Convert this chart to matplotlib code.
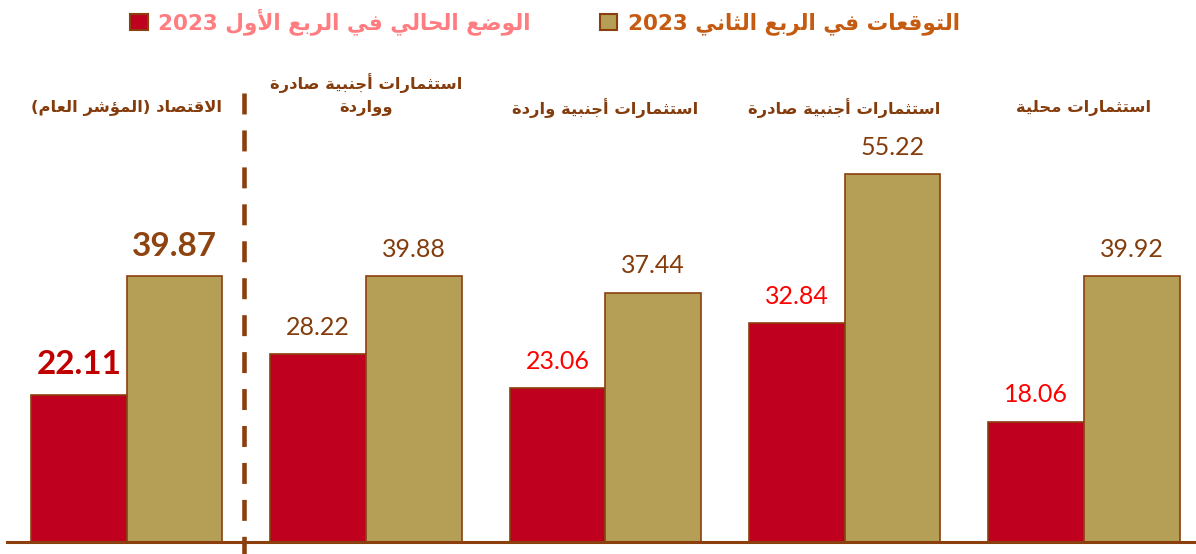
import re
import numpy as np
import matplotlib
matplotlib.use("Agg")
import matplotlib.pyplot as plt

# ---------------- data ----------------
categories = [
    "الاقتصاد (المؤشر العام)",
    "استثمارات أجنبية صادرة\nوواردة",
    "استثمارات أجنبية واردة",
    "استثمارات أجنبية صادرة",
    "استثمارات محلية",
]
current_q1 = [22.11, 28.22, 23.06, 32.84, 18.06]
expect_q2 = [39.87, 39.88, 37.44, 55.22, 39.92]
series_names = ["الوضع الحالي في الربع الأول 2023", "التوقعات في الربع الثاني 2023"]

# ---------------- minimal Arabic shaping + visual ordering ----------------
_FORMS = {
    'ا': (0xFE8D, 0xFE8E), 'أ': (0xFE83, 0xFE84), 'إ': (0xFE87, 0xFE88), 'آ': (0xFE81, 0xFE82),
    'ؤ': (0xFE85, 0xFE86), 'ة': (0xFE93, 0xFE94), 'د': (0xFEA9, 0xFEAA), 'ذ': (0xFEAB, 0xFEAC),
    'ر': (0xFEAD, 0xFEAE), 'ز': (0xFEAF, 0xFEB0), 'و': (0xFEED, 0xFEEE), 'ى': (0xFEEF, 0xFEF0),
}
_DUAL_START = {
    'ئ': 0xFE89, 'ب': 0xFE8F, 'ت': 0xFE95, 'ث': 0xFE99, 'ج': 0xFE9D, 'ح': 0xFEA1, 'خ': 0xFEA5,
    'س': 0xFEB1, 'ش': 0xFEB5, 'ص': 0xFEB9, 'ض': 0xFEBD, 'ط': 0xFEC1, 'ظ': 0xFEC5, 'ع': 0xFEC9,
    'غ': 0xFECD, 'ف': 0xFED1, 'ق': 0xFED5, 'ك': 0xFED9, 'ل': 0xFEDD, 'م': 0xFEE1, 'ن': 0xFEE5,
    'ه': 0xFEE9, 'ي': 0xFEF1,
}
for _c, _b in _DUAL_START.items():
    _FORMS[_c] = (_b, _b + 1, _b + 2, _b + 3)
_LAM_ALEF = {'ا': (0xFEFB, 0xFEFC), 'أ': (0xFEF7, 0xFEF8), 'إ': (0xFEF9, 0xFEFA), 'آ': (0xFEF5, 0xFEF6)}


def _shape(s):
    out = []
    i, n = 0, len(s)
    while i < n:
        c = s[i]
        prev = s[i - 1] if i > 0 else None
        jp = prev in _DUAL_START
        if c == 'ل' and i + 1 < n and s[i + 1] in _LAM_ALEF:
            lig = _LAM_ALEF[s[i + 1]]
            out.append(chr(lig[1] if jp else lig[0]))
            i += 2
            continue
        if c in _FORMS:
            f = _FORMS[c]
            nxt = s[i + 1] if i + 1 < n else None
            jn = len(f) == 4 and nxt in _FORMS
            if len(f) == 4:
                code = f[3] if (jp and jn) else f[1] if jp else f[2] if jn else f[0]
            else:
                code = f[1] if jp else f[0]
            out.append(chr(code))
        else:
            out.append(c)
        i += 1
    return ''.join(out)


_MIRROR = {'(': ')', ')': '('}


def ar(text):
    lines = []
    for line in text.split('\n'):
        sh = _shape(line)
        runs = re.findall(r'[0-9A-Za-z]+|[^0-9A-Za-z]+', sh)
        vis = []
        for r in reversed(runs):
            if re.match(r'[0-9A-Za-z]', r):
                vis.append(r)
            else:
                vis.append(''.join(_MIRROR.get(ch, ch) for ch in reversed(r)))
        lines.append(''.join(vis))
    return '\n'.join(lines)


# ---------------- style ----------------
RED = '#C0001F'
OLIVE = '#B59F57'
EDGE = '#8B3F0F'
BROWN = '#843C0C'
plt.rcParams['font.family'] = ['DejaVu Sans']
plt.rcParams['lines.scale_dashes'] = False

fig = plt.figure(figsize=(11.96, 5.54), dpi=100)
ax = fig.add_axes([7 / 1196, 12 / 554, 1 - 7 / 1196, 533.1 / 554])
ax.set_xlim(-0.5, 4.468)
ax.set_ylim(0, 80)

x = np.arange(len(categories))
w = 0.4
b1 = ax.bar(x - w / 2, current_q1, w, color=RED, edgecolor=EDGE, linewidth=1.2, zorder=2)
b2 = ax.bar(x + w / 2, expect_q2, w, color=OLIVE, edgecolor=EDGE, linewidth=1.2, zorder=2)

num_font = ['Lato', 'DejaVu Sans']
t1 = ax.bar_label(b1, labels=[f"{v:.2f}" for v in current_q1], padding=11,
                  fontsize=18, color='#FF0000', family=num_font)
t2 = ax.bar_label(b2, labels=[f"{v:.2f}" for v in expect_q2], padding=11,
                  fontsize=18, color=BROWN, family=num_font)
t1[0].set_fontsize(24); t1[0].set_fontweight('bold'); t1[0].set_color('#C00000')
t2[0].set_fontsize(24); t2[0].set_fontweight('bold'); t2[0].set_color('#8E4410')
t1[1].set_color(BROWN)

# category labels at top
for xi, cat in zip(x, categories):
    yc = 67.2 if '\n' in cat else 65.1
    ax.text(xi, yc, ar(cat), ha='center', va='center', fontsize=11.8, fontweight='bold',
            color=BROWN, linespacing=1.6, clip_on=False)

# dashed separator
ax.plot([0.49, 0.49], [67.4, -1.8], color=EDGE, linewidth=3.3, dashes=(15.1, 11.5),
        clip_on=False, zorder=3, dash_capstyle='butt')

# axes styling
for s in ['top', 'right', 'left']:
    ax.spines[s].set_visible(False)
ax.spines['bottom'].set_color(EDGE)
ax.spines['bottom'].set_linewidth(2.2)
ax.spines['bottom'].set_zorder(4)
ax.set_xticks([])
ax.set_yticks([])

leg = fig.legend(handles=[b1, b2], labels=[ar(series_names[0]), ar(series_names[1])],
                 loc='center', bbox_to_anchor=(545 / 1196, 1 - 22 / 554), ncol=2,
                 frameon=False, prop={'weight': 'bold', 'size': 15.5},
                 handlelength=0.8, handleheight=0.8, handletextpad=0.5, columnspacing=3.2)
for txt, col in zip(leg.get_texts(), ['#FF7C80', '#C55A11']):
    txt.set_color(col)
for h in leg.legend_handles:
    h.set_edgecolor(EDGE)
    h.set_linewidth(1.5)

fig.savefig('out.png', dpi=100)
